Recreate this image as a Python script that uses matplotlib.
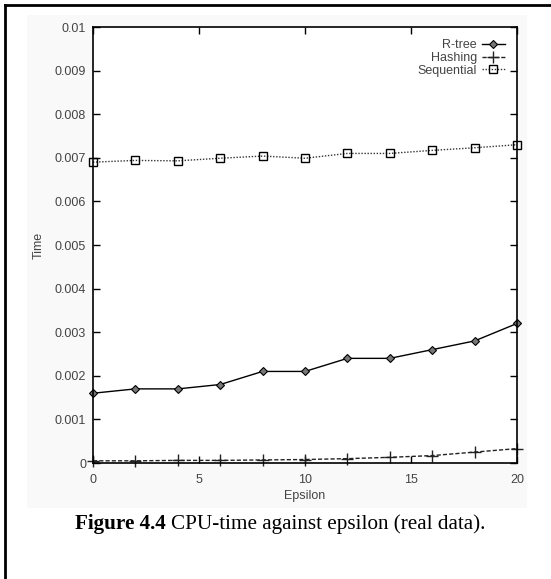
import matplotlib

matplotlib.use("Agg")
import matplotlib.pyplot as plt
from matplotlib.lines import Line2D
from matplotlib.patches import Rectangle

epsilon = [0, 2, 4, 6, 8, 10, 12, 14, 16, 18, 20]
rtree = [0.0016, 0.0017, 0.0017, 0.0018, 0.0021, 0.0021, 0.0024, 0.0024, 0.0026, 0.0028, 0.0032]
hashing = [0.00005, 0.00005, 0.00006, 0.00006, 0.00007, 0.00008, 0.0001, 0.00013, 0.00017, 0.00025, 0.00033]
sequential = [0.0069, 0.00694, 0.00693, 0.00699, 0.00704, 0.00699, 0.0071, 0.0071, 0.00717, 0.00723, 0.0073]
y_ticks = [0, 0.001, 0.002, 0.003, 0.004, 0.005, 0.006, 0.007, 0.008, 0.009, 0.01]
y_labels = ["0", "0.001", "0.002", "0.003", "0.004", "0.005", "0.006", "0.007", "0.008", "0.009", "0.01"]
x_ticks = [0, 5, 10, 15, 20]

narrow = ["Liberation Sans Narrow", "Liberation Sans", "DejaVu Sans"]
serif = ["Liberation Serif", "DejaVu Serif"]
label_color = "#444444"

fig = plt.figure(figsize=(5.51, 5.79), dpi=100)

# faint grey backdrop behind the plot and page border lines
fig.patches.append(Rectangle((27 / 551, 1 - 508 / 579), 500 / 551, 493 / 579,
                             transform=fig.transFigure, facecolor="#f9f9f9",
                             edgecolor="none", zorder=-5))
fig.add_artist(Line2D([5 / 551, 5 / 551], [0, 1 - 5 / 579], transform=fig.transFigure,
                      color="black", lw=2))
fig.add_artist(Line2D([5 / 551, 1], [1 - 5 / 579, 1 - 5 / 579], transform=fig.transFigure,
                      color="black", lw=2))

ax = fig.add_axes([93 / 551, 1 - 463 / 579, 424 / 551, 436 / 579], zorder=2)
ax.set_facecolor("white")

ax.plot(epsilon, rtree, color="black", lw=1.0, ls="-", marker="D", markersize=4,
        markerfacecolor="#777777", markeredgecolor="black", markeredgewidth=0.8,
        label="R-tree", clip_on=False)
ax.plot(epsilon, hashing, color="#222222", lw=1.0, ls=(0, (3, 1.5)), marker="+",
        markersize=8, markeredgewidth=1.0, label="Hashing", clip_on=False)
ax.plot(epsilon, sequential, color="#333333", lw=1.0, ls=(0, (1, 1.2)), marker="s",
        markersize=6, markerfacecolor="none", markeredgecolor="black",
        markeredgewidth=1.0, label="Sequential", clip_on=False)

ax.set_xlim(0, 20)
ax.set_ylim(0, 0.01)
ax.set_xticks(x_ticks)
ax.set_yticks(y_ticks)
ax.set_yticklabels(y_labels)
ax.tick_params(direction="in", length=5, width=1.0, top=True, right=True,
               labelsize=9, labelcolor=label_color, pad=5)
ax.tick_params(axis="x", pad=8)
for lab in ax.get_xticklabels() + ax.get_yticklabels():
    lab.set_family(narrow)
for spine in ax.spines.values():
    spine.set_linewidth(1.2)

ax.set_xlabel("Epsilon", family=narrow, fontsize=9, color=label_color, labelpad=3)
ax.set_ylabel("Time", family=narrow, fontsize=9, color=label_color, labelpad=7)

leg = ax.legend(loc="upper right", frameon=False, markerfirst=False,
                handlelength=1.8, handletextpad=0.4, labelspacing=0.05,
                borderaxespad=0.6, prop={"family": narrow, "size": 9})
for t in leg.get_texts():
    t.set_color(label_color)

# caption: bold figure number followed by plain text
cap_y = 1 - 524 / 579
cap_bold = fig.text(75 / 551, cap_y, "Figure 4.4", fontsize=15.2, fontweight="bold",
                    family=serif, ha="left", va="center")
fig.canvas.draw()
bb = cap_bold.get_window_extent()
fig.text(bb.x1 / fig.bbox.width + 5 / 551, cap_y, "CPU-time against epsilon (real data).",
         fontsize=15.2, family=serif, ha="left", va="center")

fig.savefig("out.png", dpi=100)
